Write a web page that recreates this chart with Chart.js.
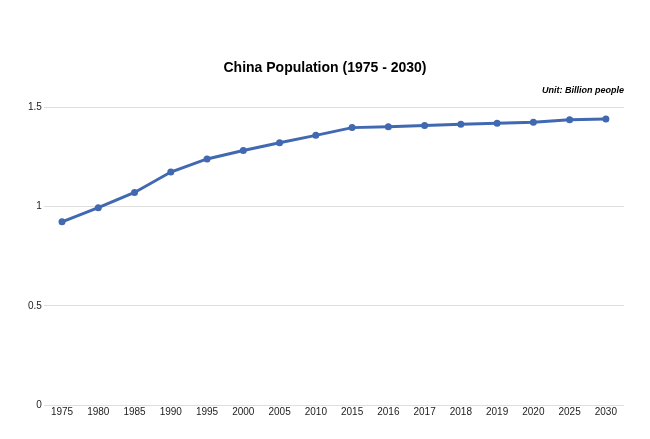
<!DOCTYPE html>
<html>
<head>
<meta charset="utf-8">
<script src="https://cdn.jsdelivr.net/npm/chart.js@4"></script>
<style>
  html, body { margin: 0; padding: 0; background: #fff; }
  #wrap { width: 650px; height: 439px; }
</style>
</head>
<body>
<div id="wrap"><canvas id="chart" width="650" height="439"></canvas></div>
<script>
// Data
const years = ['1975', '1980', '1985', '1990', '1995', '2000', '2005', '2010',
  '2015', '2016', '2017', '2018', '2019', '2020', '2025', '2030'];
const population = [0.924, 0.995, 1.072, 1.175, 1.241, 1.284, 1.323, 1.360,
  1.399, 1.404, 1.410, 1.416, 1.421, 1.426, 1.439, 1.443];
const yTicks = [0, 0.5, 1, 1.5];

const FONT = "'Liberation Sans', Arial, sans-serif";
const LINE = '#4169b1';

const chart = new Chart(document.getElementById('chart').getContext('2d'), {
  type: 'line',
  data: {
    labels: years,
    datasets: [{
      label: 'Population',
      data: population,
      borderColor: LINE,
      backgroundColor: LINE,
      borderWidth: 3,
      pointRadius: 3.5,
      pointBorderWidth: 0,
      pointHoverRadius: 3.5,
      tension: 0,
      fill: false,
    }],
  },
  options: {
    responsive: false,
    animation: false,
    layout: { padding: { top: 0, left: 26, right: 26, bottom: 20 } },
    plugins: {
      legend: { display: false },
      tooltip: { enabled: false },
      title: {
        display: true,
        text: 'China Population (1975 - 2030)',
        color: '#000',
        font: { family: FONT, size: 14, weight: 'bold' },
        padding: { top: 60, bottom: 8 },
      },
      subtitle: {
        display: true,
        text: 'Unit: Billion people',
        align: 'end',
        color: '#000',
        font: { family: FONT, size: 9, weight: 'bold', style: 'italic' },
        padding: { top: 0, bottom: 12 },
      },
    },
    scales: {
      x: {
        offset: true,
        grid: { display: false, drawTicks: false },
        border: { display: false },
        ticks: { color: '#222', font: { family: FONT, size: 10 }, maxRotation: 0, autoSkip: false, padding: 1 },
      },
      y: {
        min: 0,
        max: 1.5,
        afterBuildTicks: (axis) => { axis.ticks = yTicks.map(v => ({ value: v })); },
        grid: { color: '#dedede', lineWidth: 1, drawTicks: false },
        border: { display: false },
        ticks: { color: '#222', font: { family: FONT, size: 10 }, padding: 2, callback: (v) => String(v) },
      },
    },
  },
});
</script>
</body>
</html>
